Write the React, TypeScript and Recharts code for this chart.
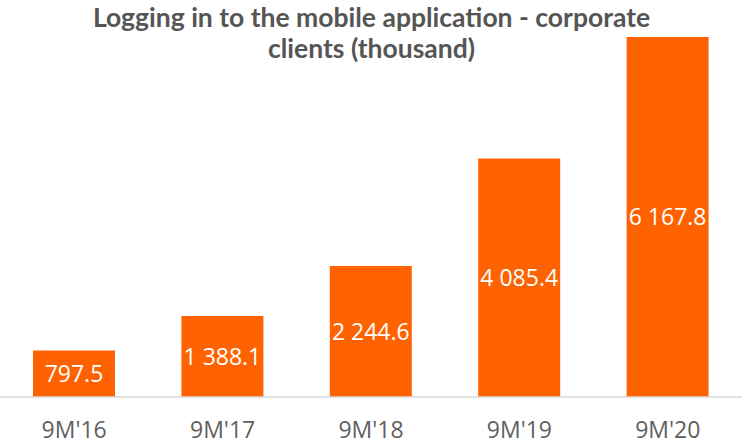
import { BarChart, Bar, XAxis, YAxis, LabelList } from 'recharts'

// Corporate clients logging in to the mobile app (thousand)
const periods = ["9M'16", "9M'17", "9M'18", "9M'19", "9M'20"]
const logins = [797.5, 1388.1, 2244.6, 4085.4, 6167.8]
const titleLines = ['Logging in to the mobile application - corporate', 'clients (thousand)']

const data = periods.map((period, i) => ({ period, value: logins[i] }))

const formatValue = (v: number) => {
  const [int, dec] = v.toFixed(1).split('.')
  return int.replace(/\B(?=(\d{3})+(?!\d))/g, ' ') + '.' + dec
}

export default function App() {
  return (
    <div style={{ position: 'absolute', left: 0, top: 0, width: 743, height: 447, background: '#fff' }}>
      <BarChart
        width={743}
        height={447}
        data={data}
        margin={{ top: 37, right: 1, left: 0, bottom: 0 }}
        barSize={82}
      >
        <XAxis
          dataKey="period"
          height={50}
          tickLine={false}
          tickMargin={19}
          axisLine={{ stroke: '#d9d9d9', strokeWidth: 1.5 }}
          tick={{ fill: '#5f5f5f', fontSize: 23, fontFamily: 'Open Sans' }}
        />
        <YAxis hide domain={[0, 'dataMax']} />
        <Bar dataKey="value" fill="#FF6200" isAnimationActive={false}>
          <LabelList
            dataKey="value"
            position="center"
            formatter={(v: any) => formatValue(Number(v))}
            fill="#ffffff"
            style={{ fontSize: 23, fontFamily: 'Open Sans' }}
          />
        </Bar>
      </BarChart>
      {titleLines.map((line, i) => (
        <div
          key={i}
          style={{
            position: 'absolute',
            left: 0,
            top: 5 + i * 31,
            width: 743,
            textAlign: 'center',
            fontFamily: 'Lato',
            fontWeight: 700,
            fontSize: 26.5,
            lineHeight: '24px',
            color: '#555555',
            whiteSpace: 'nowrap',
          }}
        >
          {line}
        </div>
      ))}
    </div>
  )
}
